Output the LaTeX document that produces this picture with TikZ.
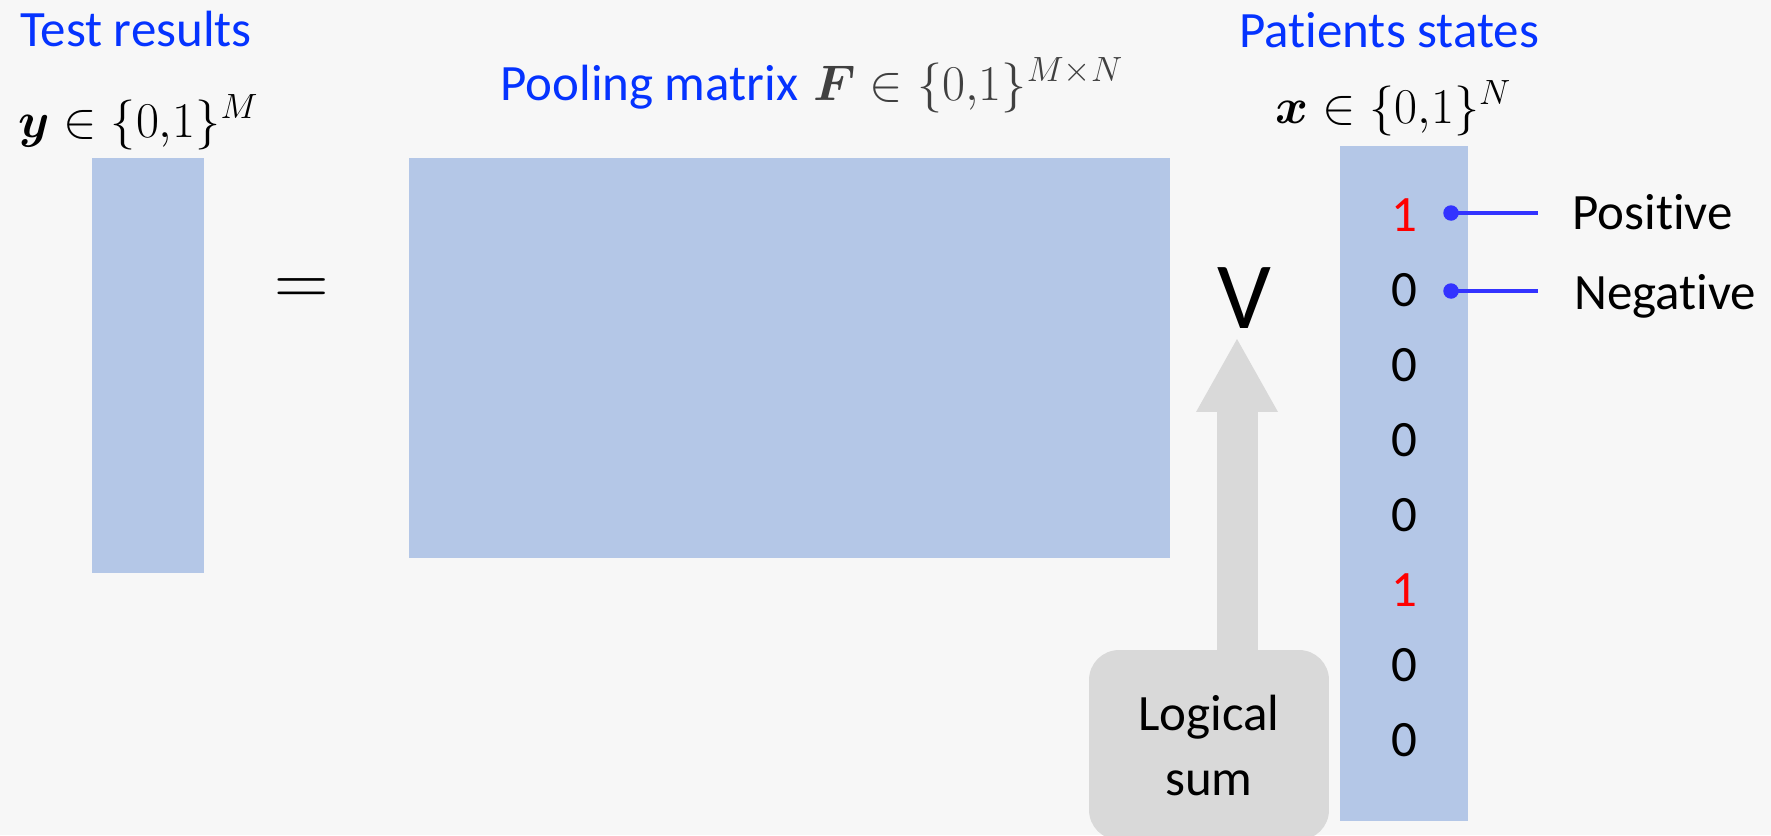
\documentclass[tikz,border=0pt]{standalone}
\usepackage{fix-cm}
\usepackage{amsmath}
\usepackage{bm}
\usepackage{fontspec}
\setmainfont{Carlito}[Ligatures=NoCommon]
\usetikzlibrary{arrows.meta}
\definecolor{bgc}{HTML}{F7F7F7}
\definecolor{boxblue}{HTML}{B4C7E7}
\definecolor{agray}{HTML}{D9D9D9}
\definecolor{tblue}{HTML}{0533FF}
\definecolor{lblue}{HTML}{3333FF}
\definecolor{mgray}{HTML}{404040}
\definecolor{dred}{HTML}{FF0000}
\tikzset{
  vecbox/.style={rectangle, fill=boxblue, inner sep=0pt},
  ttl/.style={font=\fontsize{29}{34}\selectfont, text=tblue, anchor=base west, inner sep=0pt},
  mth/.style={font=\fontsize{28.5}{32}\selectfont, anchor=base west, inner sep=0pt},
  digit/.style={font=\fontsize{29}{34}\selectfont, inner sep=0pt},
  lbl/.style={font=\fontsize{29}{34}\selectfont, anchor=base west, inner sep=0pt},
  dotn/.style={circle, fill=lblue, minimum size=0.31cm, inner sep=0pt},
  bline/.style={draw=lblue, line width=2.2pt},
  lsbox/.style={rectangle, rounded corners=0.6cm, fill=agray, minimum width=4.8cm,
    minimum height=3.8cm, align=center, font=\fontsize{29}{37}\selectfont, inner sep=0pt},
  grayarrow/.style={draw=agray, line width=0.82cm,
    -{Triangle[width=1.64cm 0, length=1.46cm 0, line width=0pt, fill=agray]}}
}
\begin{document}
\begin{tikzpicture}[x=0.02cm,y=-0.02cm]
\useasboundingbox (0,0) rectangle (1771,835);
\fill[bgc] (0,0) rectangle (1771,835);

% titles
\node[ttl] (tres) at (20,46) {Test results};
\node[mth] (yform) at (18,137) {$\boldsymbol{y}\in\{0{,}1\}^{M}$};
\node[ttl] (pool) at (500,100) {Pooling matrix\hspace{0.3em}\fontsize{28.5}{32}\selectfont$\color{mgray}\boldsymbol{F}\in\{0{,}1\}^{M\times N}$};
\node[ttl] (pstates) at (1239,47) {Patients states};
\node[mth] (xform) at (1275,123) {$\boldsymbol{x}\in\{0{,}1\}^{N}$};

% vectors and matrix
\node[vecbox, minimum width=2.24cm, minimum height=8.3cm] (yvec) at (148,365.5) {};
\node[vecbox, minimum width=15.22cm, minimum height=8cm] (fmat) at (789.5,358) {};
\node[vecbox, minimum width=2.56cm, minimum height=13.5cm] (xvec) at (1404,483.5) {};

% equals and logical or
\node[font=\fontsize{43}{48}\selectfont, anchor=base, inner sep=0pt] (eq) at (301.5,305) {$=$};
\node[font=\fontsize{54}{60}\selectfont, anchor=base, inner sep=0pt] (vee) at (1244,328) {V};

% digits
\foreach \v/\k/\c in {1/0/dred,0/1/black,0/2/black,0/3/black,0/4/black,1/5/dred,0/6/black,0/7/black}{
  \node[digit, text=\c] (d\k) at (1404,{215+75*\k}) {\v};
}

% markers
\node[dotn] (p1) at (1451,213) {};
\node[dotn] (p2) at (1451,291) {};
\coordinate (e1) at (1538,213);
\coordinate (e2) at (1538,291);
\draw[bline] (p1.center) -- (e1);
\draw[bline] (p2.center) -- (e2);
\node[lbl] (pos) at (1572,229) {Positive};
\node[lbl] (neg) at (1574,309) {Negative};

% logical sum box and arrow
\node[lsbox] (box) at (1209,745) {Logical\\sum};
\coordinate (atip) at (1237,339);
\draw[grayarrow] (box.north -| atip) -- (atip);
\end{tikzpicture}
\end{document}
